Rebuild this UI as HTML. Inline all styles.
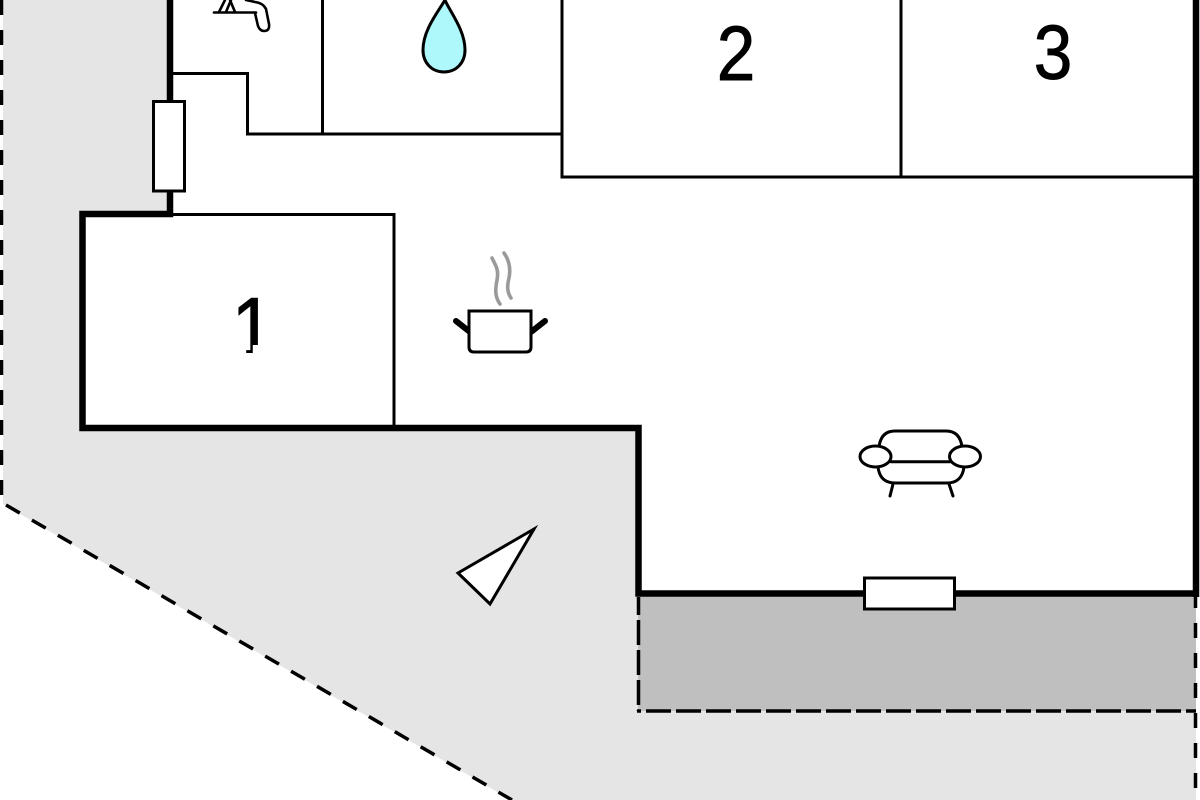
<!DOCTYPE html>
<html lang="en">
<head>
<meta charset="utf-8">
<title>Floor plan</title>
<style>
html,body{margin:0;padding:0;background:#fff;width:1200px;height:800px;overflow:hidden}
svg{display:block}
text{font-family:"Liberation Sans",sans-serif;fill:#000;stroke:#000;stroke-width:.9;text-anchor:middle}
</style>
</head>
<body>
<svg width="1200" height="800" viewBox="0 0 1200 800" xmlns="http://www.w3.org/2000/svg">
  <defs>
    <clipPath id="one"><polygon points="225,285 262,285 262,345 252.8,345 252.8,353 246.2,353 246.2,345 225,345"/></clipPath>
  </defs>
  <rect width="1200" height="800" fill="#ffffff"/>
  <!-- plot -->
  <polygon points="3,0 1196,0 1196,800 511,800 3,504" fill="#e5e5e5"/>
  <!-- terrace -->
  <rect x="638" y="594" width="558" height="117" fill="#bfbfbf"/>
  <!-- interior -->
  <polygon points="170,0 1196,0 1196,594 638,594 638,428 82,428 82,214 170,214" fill="#ffffff"/>

  <!-- dashed boundaries -->
  <g fill="none" stroke="#000">
    <line x1="1.5" y1="0" x2="1.5" y2="495" stroke-width="3.5" stroke-dasharray="15 15"/>
    <line x1="6" y1="505" x2="512" y2="800" stroke-width="3.5" stroke-dasharray="16 14"/>
    <line x1="1195.5" y1="593" x2="1195.5" y2="800" stroke-width="3.5" stroke-dasharray="15 15"/>
    <line x1="638.5" y1="597" x2="638.5" y2="711" stroke-width="3.5" stroke-dasharray="25 5" stroke-dashoffset="7"/>
    <line x1="637" y1="711" x2="1196" y2="711" stroke-width="3.5" stroke-dasharray="25 5" stroke-dashoffset="-9"/>
  </g>

  <!-- thin interior walls -->
  <g fill="none" stroke="#000" stroke-width="3">
    <polyline points="170,73.5 247.5,73.5 247.5,134 562,134"/>
    <line x1="322.5" y1="0" x2="322.5" y2="134"/>
    <polyline points="562,0 562,177 1196,177"/>
    <line x1="901" y1="0" x2="901" y2="177"/>
    <polyline points="170,214.5 394,214.5 394,428"/>
  </g>

  <!-- outer walls -->
  <g fill="none" stroke="#000" stroke-width="6.5" stroke-linejoin="miter">
    <polyline points="170,0 170,214 82.5,214 82.5,428 638.5,428 638.5,593.5 1196,593.5"/>
    <line x1="1196" y1="0" x2="1196" y2="597"/>
  </g>

  <!-- windows -->
  <rect x="153.5" y="101.5" width="31" height="89.5" fill="#fff" stroke="#000" stroke-width="3"/>
  <rect x="864.5" y="578" width="90" height="31" fill="#fff" stroke="#000" stroke-width="3"/>

  <!-- room numbers -->
  <g clip-path="url(#one)"><text transform="translate(252.8,357) scale(.9,1)" font-size="85">1</text></g>
  <text transform="translate(736,80) scale(.9,1)" font-size="77">2</text>
  <text transform="translate(1053,79) scale(.9,1)" font-size="77">3</text>

  <!-- water drop -->
  <path d="M445,0 C450,12 465,30 465,50 C465,63 456,72 444,72 C432,72 423,63 423,50 C423,30 438,12 445,0 Z" fill="#aef8fb" stroke="#000" stroke-width="3"/>

  <!-- tap -->
  <g fill="none" stroke="#000" stroke-linecap="round">
    <line x1="214" y1="12.5" x2="256" y2="12.5" stroke-width="2.6"/>
    <path d="M219,12 L225,0 M226,12 L231,0 M235,12 L230,0" stroke-width="2.6"/>
    <path d="M255,13 L258,26 Q260,31 264,31 Q270,31 269,24 L266,9 Q263,3 255,2 L246,0" stroke-width="2.6"/>
  </g>

  <!-- pot -->
  <g fill="none" stroke-linecap="round">
    <path d="M492,258 C496,266 499,270 497,280 C495,290 495,297 500,304" stroke="#9a9a9a" stroke-width="3.6"/>
    <path d="M504,253 C509,260 511,268 509,278 C507,286 507,292 511,298" stroke="#9a9a9a" stroke-width="3.6"/>
    <line x1="456" y1="321" x2="470" y2="332" stroke="#000" stroke-width="6"/>
    <line x1="545" y1="321" x2="531" y2="332" stroke="#000" stroke-width="6"/>
    <path d="M469,311 H531 V347 Q531,352 526,352 H474 Q469,352 469,347 Z" fill="#fff" stroke="#000" stroke-width="3"/>
  </g>

  <!-- sofa -->
  <g fill="none" stroke="#000" stroke-width="3" stroke-linecap="round">
    <path d="M879,447 Q881,431 895,431 H946 Q960,431 962,447"/>
    <line x1="891" y1="461.7" x2="950" y2="461.7"/>
    <path d="M878,467 Q880,483 895,483 H947 Q962,483 964,467"/>
    <line x1="893" y1="484" x2="890" y2="496"/>
    <line x1="949" y1="484" x2="953" y2="496"/>
    <ellipse cx="875.5" cy="456.5" rx="15.5" ry="10.5" fill="#fff"/>
    <ellipse cx="965" cy="456.5" rx="15.5" ry="10.5" fill="#fff"/>
  </g>

  <!-- view triangle -->
  <polygon points="534,529 458,573 490,604" fill="#fff" stroke="#000" stroke-width="3"/>
</svg>
</body>
</html>
